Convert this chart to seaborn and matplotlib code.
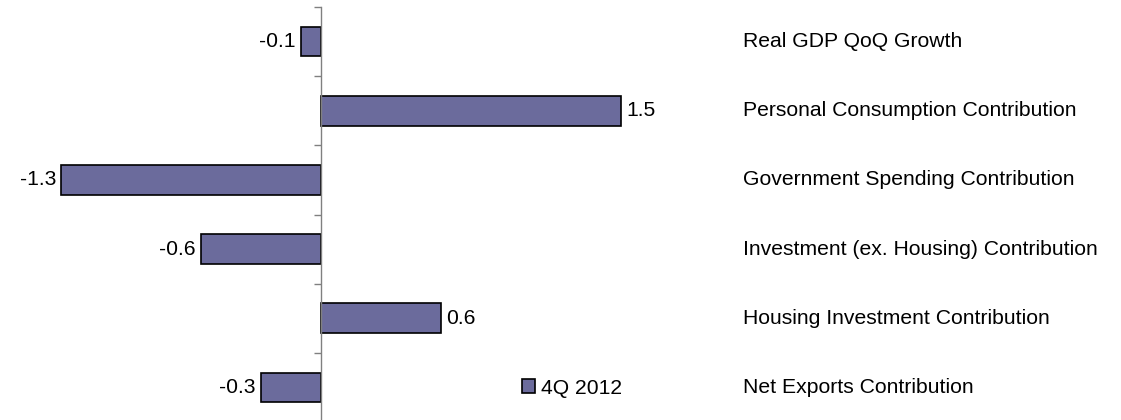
import matplotlib
matplotlib.use("Agg")
import matplotlib.pyplot as plt
import seaborn as sns
import pandas as pd
import numpy as np
from matplotlib.patches import Patch

categories = ["Real GDP QoQ Growth",
              "Personal Consumption Contribution",
              "Government Spending Contribution",
              "Investment (ex. Housing) Contribution",
              "Housing Investment Contribution",
              "Net Exports Contribution"]
values = [-0.1, 1.5, -1.3, -0.6, 0.6, -0.3]
series_name = "4Q 2012"

sns.set_theme(style="white")
plt.rcParams['font.family'] = ['Liberation Sans', 'DejaVu Sans']

df = pd.DataFrame({"category": categories, "value": values})

W, H = 1121, 420
fig = plt.figure(figsize=(W/100, H/100), dpi=100)
ax = fig.add_axes([0, (H-422)/H, 1, 415/H])

bar_color = "#6B6B9C"
sns.barplot(data=df, y="category", x="value", orient="h", color=bar_color,
            width=0.43, edgecolor="black", linewidth=1.2, saturation=1, ax=ax)

ax.set_xlim(-321/200, (W-321)/200)
n = len(categories)
ax.set_ylim(n-0.5, -0.5)

for s in ["top", "right", "bottom"]:
    ax.spines[s].set_visible(False)
ax.spines["left"].set_position(("data", 0))
ax.spines["left"].set_color("#808080")
ax.spines["left"].set_linewidth(1)
ax.set_xticks([])
ax.set_yticks(np.arange(-0.5, n, 1.0))
ax.set_yticklabels([])
ax.tick_params(axis="y", direction="out", length=5, color="#808080", width=1, left=True)
ax.set_xlabel("")
ax.set_ylabel("")

fs = 15.2
for i, (c, v) in enumerate(zip(categories, values)):
    off = 0.025
    if v >= 0:
        ax.text(v + off, i, f"{v:.1f}", va="center", ha="left", fontsize=fs, color="black")
    else:
        ax.text(v - off, i, f"{v:.1f}", va="center", ha="right", fontsize=fs, color="black")
    ax.text(2.11, i, c, va="center", ha="left", fontsize=fs, color="black")

handle = Patch(facecolor=bar_color, edgecolor="black", linewidth=1.2)
leg = fig.legend([handle], [series_name], loc="center left",
                 bbox_to_anchor=(503/W, 1 - 388/H), frameon=False, fontsize=fs,
                 handlelength=0.6, handleheight=0.6, handletextpad=0.3)
for t in leg.get_texts():
    t.set_color("black")

fig.savefig("out.png", dpi=100)
